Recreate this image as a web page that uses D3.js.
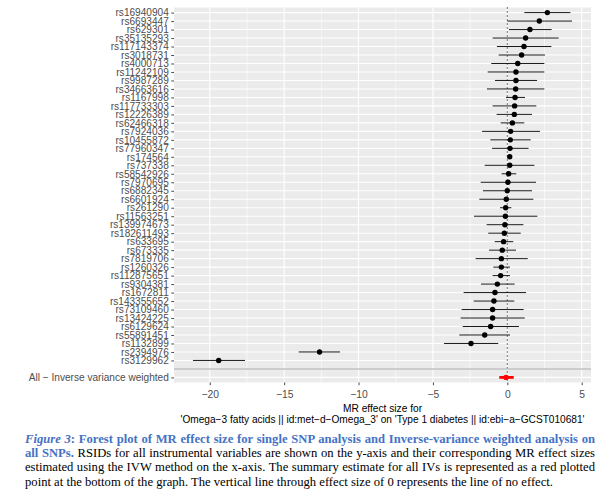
<!DOCTYPE html>
<html><head><meta charset="utf-8">
<script src="https://cdn.jsdelivr.net/npm/d3@7"></script>
<style>body{margin:0;background:#fff} svg{display:block}</style>
</head><body>
<svg id="c" width="608" height="500"></svg>
<script>
const snps = ["rs16940904","rs6693447","rs629301","rs35135293","rs117143374","rs3018731","rs4000713","rs11242109","rs9987289","rs34663616","rs1167998","rs117733303","rs12226389","rs62466318","rs7924036","rs10455872","rs77960347","rs174564","rs737338","rs58542926","rs7970695","rs6882345","rs6601924","rs261290","rs11563251","rs139974673","rs182611493","rs633695","rs673335","rs7819706","rs1260326","rs112875651","rs9304381","rs1672811","rs143355652","rs73109460","rs13424225","rs6129624","rs55891451","rs1132899","rs2394976","rs3129962"];
const beta = [2.69,2.15,1.52,1.23,1.12,0.96,0.70,0.58,0.58,0.56,0.52,0.49,0.47,0.34,0.22,0.20,0.18,0.16,0.16,0.09,0.04,0.00,-0.07,-0.11,-0.13,-0.16,-0.20,-0.25,-0.34,-0.40,-0.40,-0.45,-0.67,-0.83,-0.90,-0.99,-0.99,-1.12,-1.52,-2.44,-12.62,-19.40];
const lower = [1.14,0.00,0.11,-0.99,-0.70,-0.58,-1.08,-1.32,-0.83,-1.37,-0.09,-0.99,-0.72,-0.45,-1.70,-1.14,-1.03,0.05,-1.52,-0.38,-1.79,-1.64,-1.88,-0.49,-2.24,-1.39,-1.28,-0.85,-1.23,-2.13,-0.94,-0.99,-1.77,-2.94,-2.26,-3.07,-3.14,-3.00,-3.23,-4.26,-14.02,-21.13];
const upper = [4.24,4.35,2.98,3.45,2.96,2.53,2.49,2.49,2.00,2.49,1.19,1.95,1.66,1.14,2.20,1.57,1.43,0.27,1.82,0.60,1.93,1.66,1.75,0.27,2.02,1.08,0.90,0.40,0.58,1.37,0.18,0.18,0.49,1.26,0.47,1.10,1.17,0.78,0.18,-0.61,-11.24,-17.63];
const ivwLabel = "All − Inverse variance weighted";
const ivwBeta = -0.09, ivwLower = -0.54, ivwUpper = 0.43;
const xTicks = [-20,-15,-10,-5,0,5];
const xMinor = [-17.5,-12.5,-7.5,-2.5,2.5];
const xTitle1 = "MR effect size for";
const xTitle2 = "'Omega−3 fatty acids || id:met−d−Omega_3' on 'Type 1 diabetes || id:ebi−a−GCST010681'";

const svg = d3.select("#c");
const sans = "'Liberation Sans', Arial, Helvetica, sans-serif";
const serif = "'Liberation Serif', 'Times New Roman', Times, serif";

const allLo = Math.min(d3.min(lower), ivwLower), allHi = Math.max(d3.max(upper), ivwUpper);
const ex = (allHi - allLo) * 0.05;
const L = 174, R = 591, T = 7.5, B = 382.5;
const x = d3.scaleLinear().domain([allLo - ex, allHi + ex]).range([L, R]);
const rows = snps.concat([""], [ivwLabel]);
const y = d3.scalePoint().domain(rows).range([T, B]).padding(0.6);

// panel
svg.append("rect").attr("x", L).attr("y", T).attr("width", R - L).attr("height", B - T).attr("fill", "#EBEBEB");
const g = svg.append("g");
g.selectAll(".mn").data(xMinor).join("line")
  .attr("x1", d => x(d)).attr("x2", d => x(d)).attr("y1", T).attr("y2", B)
  .attr("stroke", "#fff").attr("stroke-width", 0.55);
g.selectAll(".mjx").data(xTicks).join("line")
  .attr("x1", d => x(d)).attr("x2", d => x(d)).attr("y1", T).attr("y2", B)
  .attr("stroke", "#fff").attr("stroke-width", 1.1);
g.selectAll(".mjy").data(rows).join("line")
  .attr("x1", L).attr("x2", R).attr("y1", d => y(d)).attr("y2", d => y(d))
  .attr("stroke", "#fff").attr("stroke-width", 1.1);

// dotted zero line
svg.append("line").attr("x1", x(0)).attr("x2", x(0)).attr("y1", T).attr("y2", B)
  .attr("stroke", "#000").attr("stroke-width", 1.1).attr("stroke-dasharray", "1.1 2.9");

// error bars
const snpData = snps.map((s, i) => ({s, b: beta[i], lo: lower[i], hi: upper[i]}));
svg.append("g").selectAll("line").data(snpData).join("line")
  .attr("x1", d => x(d.lo)).attr("x2", d => x(d.hi))
  .attr("y1", d => y(d.s)).attr("y2", d => y(d.s))
  .attr("stroke", "#000").attr("stroke-width", 0.9);
svg.append("line").attr("x1", x(ivwLower)).attr("x2", x(ivwUpper))
  .attr("y1", y(ivwLabel)).attr("y2", y(ivwLabel))
  .attr("stroke", "#FF0000").attr("stroke-width", 2.8);

// points
svg.append("g").selectAll("circle").data(snpData).join("circle")
  .attr("cx", d => x(d.b)).attr("cy", d => y(d.s)).attr("r", 2.7).attr("fill", "#000");
svg.append("circle").attr("cx", x(ivwBeta)).attr("cy", y(ivwLabel)).attr("r", 2.7).attr("fill", "#FF0000");

// separator
svg.append("line").attr("x1", L).attr("x2", R).attr("y1", y("")).attr("y2", y(""))
  .attr("stroke", "#BEBEBE").attr("stroke-width", 1.6);

// y axis
const yAxis = svg.append("g").attr("transform", `translate(${L},0)`)
  .call(d3.axisLeft(y).tickSize(2.7).tickPadding(2.5).tickFormat(d => d));
yAxis.select(".domain").remove();
yAxis.selectAll(".tick line").attr("stroke", "#333").attr("stroke-width", 0.9);
yAxis.selectAll(".tick").filter(d => d === "").remove();
yAxis.selectAll(".tick text").attr("fill", "#4D4D4D").attr("font-family", sans).attr("font-size", 10.1);

// x axis
const xAxis = svg.append("g").attr("transform", `translate(0,${B})`)
  .call(d3.axisBottom(x).tickValues(xTicks).tickSize(2.7).tickPadding(5.5));
xAxis.select(".domain").remove();
xAxis.selectAll(".tick line").attr("stroke", "#333").attr("stroke-width", 0.9);
xAxis.selectAll(".tick text").attr("fill", "#4D4D4D").attr("font-family", sans).attr("font-size", 10.3);

// x title
const cx = (L + R) / 2;
svg.append("text").attr("x", cx).attr("y", 412).attr("text-anchor", "middle")
  .attr("font-family", sans).attr("font-size", 10.2).attr("fill", "#000").text(xTitle1);
svg.append("text").attr("x", cx).attr("y", 423).attr("text-anchor", "middle")
  .attr("font-family", sans).attr("font-size", 10.15).attr("fill", "#000").text(xTitle2);

// caption
const blue = "#4472C4";
const capLines = [
  [{t:"Figure 3", c:blue, w:"bold", s:"italic"}, {t:": Forest plot of MR effect size for single SNP analysis and Inverse-variance weighted analysis on", c:blue, w:"bold"}],
  [{t:"all SNPs.", c:blue, w:"bold"}, {t:" RSIDs for all instrumental variables are shown on the y-axis and their corresponding MR effect sizes", c:"#000"}],
  [{t:"estimated using the IVW method on the x-axis. The summary estimate for all IVs is represented as a red plotted", c:"#000"}],
  [{t:"point at the bottom of the graph. The vertical line through effect size of 0 represents the line of no effect.", c:"#000"}]
];
const capX = 25, capW = 570, capY0 = 442.5, capDY = 14.45;
let fs = 12.5;
const probe = svg.append("text").attr("font-family", serif).attr("font-size", fs).text(capLines[3][0].t);
const pw = probe.node().getComputedTextLength();
probe.remove();
fs = fs * 529 / pw;
capLines.forEach((ln, i) => {
  const t = svg.append("text").attr("x", capX).attr("y", capY0 + i * capDY)
    .attr("font-family", serif).attr("font-size", fs);
  ln.forEach(p => {
    t.append("tspan").text(p.t).attr("fill", p.c)
      .attr("font-weight", p.w || "normal").attr("font-style", p.s || "normal");
  });
  if (i < 3) {
    const w = t.node().getComputedTextLength();
    const n = ln.map(p => p.t).join("").split(" ").length - 1;
    t.attr("word-spacing", (capW - w) / n);
  }
});
</script>
</body></html>
